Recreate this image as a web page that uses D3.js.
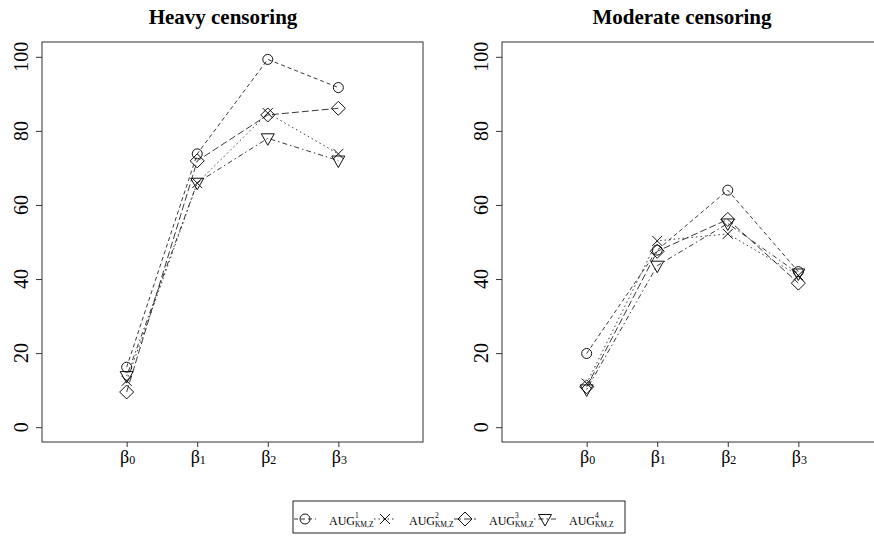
<!DOCTYPE html>
<html>
<head>
<meta charset="utf-8">
<script src="https://cdn.jsdelivr.net/npm/d3@7"></script>
<style>
  body { margin: 0; background: #fff; }
</style>
</head>
<body>
<div id="chart"></div>
<script>
// coefficients on the x axis
const coefs = ["0", "1", "2", "3"]
const yTicks = [0, 20, 40, 60, 80, 100]
const seriesNames = ["1", "2", "3", "4"]

// heavy censoring panel
const heavy1 = [16.2, 73.8, 99.3, 91.7]
const heavy2 = [12.5, 65.9, 84.8, 73.8]
const heavy3 = [9.5, 71.9, 84.3, 86.1]
const heavy4 = [13.8, 66.0, 78.0, 72.0]

// moderate censoring panel
const mod1 = [19.9, 47.8, 64.0, 42.0]
const mod2 = [11.8, 50.3, 52.2, 41.0]
const mod3 = [10.9, 47.5, 56.1, 38.9]
const mod4 = [10.2, 43.6, 55.0, 41.5]

const panels = [
    { title: "Heavy censoring", left: 42, titleX: 223, series: [heavy1, heavy2, heavy3, heavy4] },
    { title: "Moderate censoring", left: 502, titleX: 682, series: [mod1, mod2, mod3, mod4] }
]

const symbols = ["circle", "cross", "diamond", "triangle"]
const dashes = ["4,3", "1.5,3", "7,3", "1.5,3,5,3"]

const FONT = "'Liberation Serif', 'Times New Roman', 'DejaVu Serif', serif"
const W = 874, H = 537
const boxW = 381, boxTop = 42, boxBottom = 442

const svg = d3.select("#chart").append("svg")
    .attr("width", W)
    .attr("height", H)
    .style("font-family", FONT)

function drawSymbol(g, type, cx, cy) {
    const s = g.append("g").attr("transform", `translate(${cx},${cy})`)
        .attr("fill", "none").attr("stroke", "#111").attr("stroke-width", 1)
    if (type === "circle") {
        s.append("circle").attr("r", 5)
    } else if (type === "cross") {
        s.append("path").attr("d", "M-5,-5L5,5M-5,5L5,-5")
    } else if (type === "diamond") {
        s.append("path").attr("d", "M0,-7L7,0L0,7L-7,0Z")
    } else {
        s.append("path").attr("d", "M-6.5,-4.5L6.5,-4.5L0,7Z")
    }
}

panels.forEach(p => {
    const x = d3.scaleLinear().domain([-0.2, 5.2]).range([p.left, p.left + boxW])
    const y = d3.scaleLinear().domain([-4, 104]).range([boxBottom, boxTop])
    const g = svg.append("g")

    // title
    g.append("text")
        .attr("x", p.titleX).attr("y", 24)
        .attr("text-anchor", "middle")
        .style("font-family", FONT)
        .style("font-size", "21px").style("font-weight", "bold")
        .text(p.title)

    // box
    g.append("rect")
        .attr("x", p.left).attr("y", boxTop)
        .attr("width", boxW).attr("height", boxBottom - boxTop)
        .attr("fill", "none").attr("stroke", "#333").attr("stroke-width", 1)

    // y axis
    const yAxis = g.append("g")
        .attr("transform", `translate(${p.left},0)`)
        .call(d3.axisLeft(y).tickValues(yTicks).tickSize(6).tickSizeOuter(0).tickFormat(""))
    yAxis.select(".domain").remove()
    yAxis.selectAll(".tick line").attr("stroke", "#333")
    g.selectAll(null)
        .data(yTicks)
        .join("text")
        .attr("transform", d => `translate(${p.left - 14},${y(d)}) rotate(-90)`)
        .attr("text-anchor", "middle")
        .style("font-family", FONT)
        .style("font-size", "20px")
        .text(d => d)

    // x axis
    const xAxis = g.append("g")
        .attr("transform", `translate(0,${boxBottom})`)
        .call(d3.axisBottom(x).tickValues([1, 2, 3, 4]).tickSize(5).tickSizeOuter(0).tickFormat(""))
    xAxis.select(".domain").remove()
    xAxis.selectAll(".tick line").attr("stroke", "#333")
    const xl = g.selectAll(null)
        .data(coefs)
        .join("text")
        .attr("x", (d, i) => x(i + 1) + 1)
        .attr("y", 463)
        .attr("text-anchor", "middle")
        .style("font-family", FONT)
        .style("font-size", "18px")
    xl.append("tspan").text("β")
    xl.append("tspan").style("font-size", "12px").attr("dy", 1).text(d => d)

    // lines and points
    p.series.forEach((vals, k) => {
        const line = d3.line().x((d, i) => x(i + 1)).y(d => y(d))
        g.append("path")
            .datum(vals)
            .attr("d", line)
            .attr("fill", "none")
            .attr("stroke", "#222")
            .attr("stroke-width", 0.9)
            .attr("stroke-dasharray", dashes[k])
        vals.forEach((v, i) => drawSymbol(g, symbols[k], x(i + 1), y(v)))
    })
})

// legend
const leg = svg.append("g")
leg.append("rect")
    .attr("x", 293).attr("y", 501).attr("width", 332).attr("height", 32)
    .attr("fill", "none").attr("stroke", "#222").attr("stroke-width", 1)

const legX = d3.scalePoint().domain(seriesNames).range([305, 545])
seriesNames.forEach((n, k) => {
    const cx = legX(n)
    leg.append("line")
        .attr("x1", cx - 11).attr("x2", cx + 11)
        .attr("y1", 519).attr("y2", 519)
        .attr("stroke", "#222").attr("stroke-width", 0.9)
        .attr("stroke-dasharray", dashes[k])
    drawSymbol(leg, symbols[k], cx, 519)
    const t = leg.append("text")
        .attr("x", cx + 24).attr("y", 525)
        .style("font-family", FONT)
        .style("font-size", "12px")
    t.append("tspan").text("AUG")
    t.append("tspan").style("font-size", "7.5px").attr("dy", -7).text(n)
    t.append("tspan").style("font-size", "7.5px").attr("dx", -3.8).attr("dy", 9).text("KM,Z")
})
</script>
</body>
</html>
